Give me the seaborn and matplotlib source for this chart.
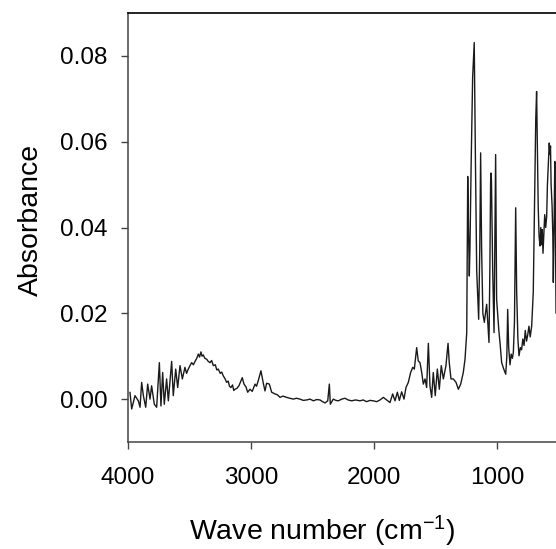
import numpy as np
import pandas as pd
import seaborn as sns
import matplotlib.pyplot as plt

# IR spectrum (wave number in cm-1, absorbance)
wave = [3984, 3970, 3943, 3916, 3902, 3889, 3875, 3856, 3840, 3821,
        3808, 3786, 3767, 3745, 3732, 3718, 3705, 3686, 3672, 3645,
        3632, 3612, 3596, 3577, 3558, 3537, 3524, 3510, 3496, 3482,
        3468, 3455, 3441, 3428, 3418, 3407, 3398, 3388, 3375, 3360,
        3348, 3333, 3320, 3306, 3290, 3278, 3266, 3250, 3238, 3225,
        3212, 3198, 3185, 3175, 3163, 3150, 3140, 3130, 3115, 3098,
        3085, 3071, 3057, 3040, 3027, 3008, 2990, 2967, 2955, 2941,
        2930, 2919, 2900, 2886, 2873, 2851, 2832, 2805, 2785, 2764,
        2740, 2710, 2685, 2656, 2630, 2602, 2575, 2547, 2520, 2493,
        2465, 2439, 2418, 2398, 2376, 2363, 2355, 2331, 2310, 2290,
        2262, 2236, 2210, 2182, 2150, 2114, 2088, 2060, 2032, 2006,
        1978, 1951, 1924, 1897, 1870, 1848, 1829, 1810,
        1794, 1775, 1756, 1740, 1721, 1702, 1685, 1672, 1653, 1640,
        1626, 1612, 1599, 1585, 1572, 1558, 1545, 1531, 1518, 1502,
        1485, 1469, 1453, 1436, 1415, 1398, 1388, 1374, 1355, 1333,
        1314, 1295, 1274, 1260, 1246, 1240, 1238, 1232, 1225, 1220,
        1210, 1198, 1185, 1175, 1165, 1149, 1140, 1133, 1125, 1115,
        1103, 1084, 1075, 1065, 1058, 1052, 1049, 1045, 1035, 1024,
        1018, 1011, 1003, 995, 985, 975, 962, 945, 929, 920,
        913, 905, 894, 885, 875, 867, 858, 848, 840, 830,
        821, 810, 800, 790, 780, 770, 760, 750, 740, 730,
        718, 705, 695, 685, 678, 672, 665, 658, 650, 644,
        638, 632, 626, 620, 612, 604, 596, 590, 582, 575,
        570, 565, 560, 552, 546, 542, 536, 530, 526, 520]

absorb = [0.0016, -0.0023, 0.0008, -0.0004, -0.0019, 0.0039, 0.0008, -0.0019, 0.0035, 0.0000,
          0.0031, -0.0012, -0.0019, 0.0085, -0.0016, 0.0062, -0.0012, 0.0047, -0.0004, 0.0088,
          0.0008, 0.0070, 0.0027, 0.0078, 0.0047, 0.0074, 0.0060, 0.0070, 0.0078, 0.0085,
          0.0080, 0.0088, 0.0095, 0.0105, 0.0098, 0.0110, 0.0100, 0.0103, 0.0095, 0.0093,
          0.0088, 0.0085, 0.0090, 0.0078, 0.0080, 0.0068, 0.0070, 0.0060, 0.0063, 0.0054,
          0.0048, 0.0039, 0.0042, 0.0030, 0.0027, 0.0033, 0.0020, 0.0023, 0.0025, 0.0031,
          0.0040, 0.0050, 0.0035, 0.0028, 0.0016, 0.0023, 0.0018, 0.0035, 0.0030, 0.0043,
          0.0055, 0.0066, 0.0037, 0.0019, 0.0037, 0.0035, 0.0016, 0.0012, 0.0010, 0.0004,
          0.0007, 0.0004, 0.0002, 0.0000, 0.0002, 0.0000, -0.0003, -0.0002, 0.0000, -0.0004,
          -0.0001, -0.0002, -0.0006, -0.0009, -0.0004, 0.0035, -0.0012, 0.0000, -0.0003, -0.0004,
          0.0000, 0.0002, -0.0002, -0.0004, -0.0002, -0.0004, -0.0002, -0.0006, -0.0003, -0.0004,
          -0.0006, -0.0002, 0.0004, -0.0002, -0.0008, 0.0012, -0.0004, 0.0016,
          -0.0003, 0.0017, 0.0000, 0.0027, 0.0039, 0.0062, 0.0074, 0.0070, 0.0120, 0.0089,
          0.0085, 0.0062, 0.0035, 0.0047, 0.0027, 0.0130, 0.0031, 0.0004, 0.0062, 0.0008,
          0.0070, 0.0023, 0.0078, 0.0047, 0.0078, 0.0130, 0.0085, 0.0047, 0.0047, 0.0039,
          0.0023, 0.0035, 0.0062, 0.0093, 0.0155, 0.0450, 0.0519, 0.0400, 0.0287, 0.0350,
          0.0550, 0.0750, 0.0831, 0.0550, 0.0300, 0.0186, 0.0350, 0.0574, 0.0350, 0.0200,
          0.0179, 0.0221, 0.0180, 0.0132, 0.0300, 0.0505, 0.0527, 0.0510, 0.0300, 0.0155,
          0.0350, 0.0570, 0.0233, 0.0200, 0.0160, 0.0130, 0.0085, 0.0070, 0.0058, 0.0100,
          0.0209, 0.0120, 0.0080, 0.0105, 0.0095, 0.0109, 0.0180, 0.0446, 0.0250, 0.0140,
          0.0101, 0.0120, 0.0115, 0.0140, 0.0125, 0.0160, 0.0135, 0.0150, 0.0170, 0.0145,
          0.0170, 0.0250, 0.0450, 0.0650, 0.0717, 0.0600, 0.0450, 0.0380, 0.0357, 0.0400,
          0.0360, 0.0395, 0.0340, 0.0380, 0.0430, 0.0400, 0.0426, 0.0500, 0.0550, 0.0597,
          0.0570, 0.0590, 0.0500, 0.0450, 0.0380, 0.0272, 0.0400, 0.0554, 0.0450, 0.0200]

df = pd.DataFrame({'wave': wave, 'absorbance': absorb})

sns.set_style('ticks')
plt.rcParams['font.family'] = ['Liberation Sans', 'DejaVu Sans']
plt.rcParams['text.color'] = 'black'
plt.rcParams['axes.labelcolor'] = 'black'

fig = plt.figure(figsize=(5.56, 5.49), dpi=100)
# axes runs past the right edge of the figure, as in the cropped original
ax = fig.add_axes([0.2302, 0.1949, 0.7964, 0.7814])

sns.lineplot(data=df, x='wave', y='absorbance', ax=ax, color='#1a1a1a',
             linewidth=1.0, estimator=None, sort=False)

ax.set_xlim(4000, 400)
ax.set_ylim(-0.01, 0.09)
ax.set_xticks([4000, 3000, 2000, 1000])
ax.set_yticks([0.0, 0.02, 0.04, 0.06, 0.08])
ax.set_yticklabels(['0.00', '0.02', '0.04', '0.06', '0.08'])

ax.tick_params(axis='both', labelsize=17.5, length=5, width=1, color='#444444',
               labelcolor='black', direction='out')
ax.tick_params(axis='x', pad=13)
ax.tick_params(axis='y', pad=10)

for side in ['left', 'bottom']:
    ax.spines[side].set_color('#444444')
    ax.spines[side].set_linewidth(1.1)
ax.spines['top'].set_color('black')
ax.spines['top'].set_linewidth(1.2)

ax.set_xlabel('Wave number (cm$\\mathregular{^{-1}}$)', fontsize=20.5, color='black')
ax.set_ylabel('Absorbance', fontsize=20.5, color='black')
ax.xaxis.set_label_coords(0.438, -0.168)
ax.yaxis.set_label_coords(-0.19, 0.517)

fig.savefig('out.png', dpi=100)
